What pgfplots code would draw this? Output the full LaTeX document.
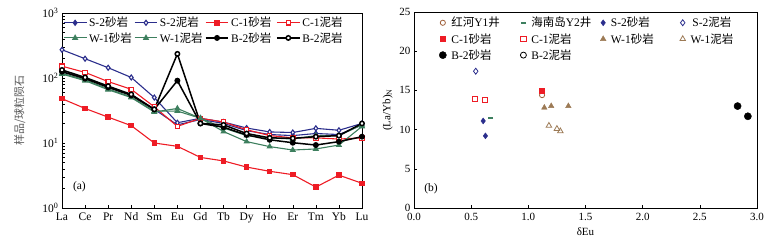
\documentclass[border=0pt]{standalone}
\usepackage{fontspec}
\setmainfont{Liberation Serif}
\newfontfamily\cjk{Noto Sans CJK SC}
\usepackage{pgfplots}
\pgfplotsset{compat=1.18}
\definecolor{cblue}{HTML}{2B2E8C}
\definecolor{cred}{HTML}{EE1C25}
\definecolor{cgreen}{HTML}{3D7F5E}
\definecolor{cbrown}{HTML}{9C7A55}
\definecolor{chong}{HTML}{A0603A}
\newcommand{\cn}[1]{{\cjk #1}}
\newcommand{\la}[1]{\makebox[43pt][l]{#1}}
\newcommand{\lb}[1]{\makebox[70pt][l]{\hspace{3pt}#1}}
\begin{document}
\begin{tikzpicture}[x=1pt,y=1pt]
\useasboundingbox (0,0) rectangle (775,-249);
\begin{axis}[
  at={(62pt,-208pt)}, anchor=south west,
  scale only axis, width=300pt, height=195pt,
  ymode=log, ymin=1, ymax=1000,
  xmin=0, xmax=13,
  xtick={0,...,13},
  xticklabels={La,Ce,Pr,Nd,Sm,Eu,Gd,Tb,Dy,Ho,Er,Tm,Yb,Lu},
  ytick={1,10,100,1000},
  yticklabels={10\textsuperscript{0},10\textsuperscript{1},10\textsuperscript{2},10\textsuperscript{3}},
  minor ytick={},
  ytick pos=left, xtick pos=bottom,
  tick style={black, thin},
  major tick length=3pt,
  tick label style={font=\fontsize{11.5}{12}\selectfont},
  xticklabel style={yshift=-1pt},
  ylabel={\cn{样品/球粒陨石}},
  ylabel style={font=\fontsize{11}{12}\selectfont, color=black!65, at={(axis description cs:-0.11,0.5)}},
  legend columns=4,
  legend style={draw=none, fill=none, at={(0.0,0.995)}, anchor=north west,
    font=\fontsize{11.5}{12}\selectfont, column sep=0pt, row sep=0pt,
    inner sep=1pt},
  legend image code/.code={\draw[mark repeat=2,mark phase=2] plot coordinates {(0cm,0cm) (0.4cm,0cm) (0.8cm,0cm)};},
  clip=false,
]
% S-2 sandstone
\addplot[cblue, line width=1.1pt, mark=diamond*, mark size=2.5pt] coordinates {
(0,125)(1,100)(2,72)(3,55)(4,33)(5,19)(6,23)(7,20)(8,15.5)(9,13.5)(10,13)(11,14)(12,13.5)(13,19)};
\addlegendentry{\la{S-2\cn{砂岩}}}
% S-2 mudstone
\addplot[cblue, line width=1.1pt, mark=diamond*, mark options={fill=white}, mark size=2.5pt] coordinates {
(0,272)(1,198)(2,144)(3,102)(4,50)(5,20.5)(6,24)(7,21)(8,17)(9,14.8)(10,14.5)(11,16.8)(12,15.7)(13,20)};
\addlegendentry{\la{S-2\cn{泥岩}}}
% C-1 sandstone
\addplot[cred, line width=1.1pt, mark=square*, mark size=2.2pt] coordinates {
(0,48)(1,34)(2,25)(3,18.5)(4,10)(5,8.9)(6,6.0)(7,5.3)(8,4.26)(9,3.67)(10,3.26)(11,2.1)(12,3.2)(13,2.4)};
\addlegendentry{\la{C-1\cn{砂岩}}}
% C-1 mudstone
\addplot[cred, line width=1.1pt, mark=square*, mark options={fill=white}, mark size=2.2pt] coordinates {
(0,152)(1,122)(2,88)(3,67)(4,36)(5,18)(6,24)(7,21)(8,16)(9,13)(10,12)(11,12)(12,11.5)(13,12)};
\addlegendentry{C-1\cn{泥岩}}
% W-1 sandstone
\addplot[cgreen, line width=1.1pt, mark=triangle*, mark size=2.6pt] coordinates {
(0,115)(1,91)(2,66)(3,50)(4,30)(5,34)(6,24)(7,15)(8,10.5)(9,8.8)(10,7.8)(11,8.1)(12,9.3)(13,18)};
\addlegendentry{\la{W-1\cn{砂岩}}}
% W-1 mudstone
\addplot[cgreen, line width=1.1pt, mark=triangle*, mark size=2.6pt] coordinates {
(0,118)(1,94)(2,68)(3,51)(4,31)(5,31)(6,24)(7,17)(8,13)(9,12)(10,11.5)(11,13)(12,13)(13,19)};
\addlegendentry{\la{W-1\cn{泥岩}}}
% B-2 sandstone
\addplot[black, line width=1.5pt, mark=*, mark size=2.2pt] coordinates {
(0,125)(1,98)(2,72)(3,54)(4,33)(5,91)(6,20)(7,17.5)(8,13.3)(9,11.2)(10,10.1)(11,9.3)(12,10.5)(13,12.5)};
\addlegendentry{\la{B-2\cn{砂岩}}}
% B-2 mudstone
\addplot[black, line width=1.5pt, mark=*, mark options={fill=white}, mark size=2.2pt] coordinates {
(0,133)(1,102)(2,75)(3,56)(4,33)(5,235)(6,20)(7,19)(8,14)(9,12)(10,11.8)(11,12.5)(12,13)(13,20)};
\addlegendentry{B-2\cn{泥岩}}
\node[anchor=west, font=\fontsize{11.5}{12}\selectfont] at (rel axis cs:0.025,0.11) {(a)};
\end{axis}

\begin{axis}[
  at={(414pt,-208pt)}, anchor=south west,
  scale only axis, width=343pt, height=196pt,
  xmin=0, xmax=3, ymin=0, ymax=25,
  xtick={0,0.5,...,3.0},
  ytick={0,5,...,25},
  xticklabel style={yshift=-2pt, /pgf/number format/.cd, fixed, fixed zerofill, precision=1},
  /pgf/number format/assume math mode=true,
  ytick pos=left, xtick pos=bottom,
  tick style={black, thin},
  major tick length=3pt,
  tick label style={font=\fontsize{11}{12}\selectfont},
  xlabel={δEu},
  ylabel={(La/Yb)\textsubscript{N}},
  label style={font=\fontsize{11}{12}\selectfont},
  legend columns=4,
  legend style={draw=none, fill=none, at={(0.07,0.99)}, anchor=north west,
    font=\fontsize{11.5}{12}\selectfont, row sep=1pt, column sep=0pt, inner sep=1pt},
  clip=false,
]
\addplot[only marks, chong, mark=o, mark size=2.6pt, thick] coordinates {(1.12,14.4)};
\addlegendentry{\lb{\cn{红河}Y1\cn{井}}}
\addplot[only marks, cgreen, mark=-, mark size=2.6pt, line width=1.6pt] coordinates {(0.67,11.5)};
\addlegendentry{\lb{\cn{海南岛}Y2\cn{井}}}
\addplot[only marks, cblue, mark=diamond*, mark size=3pt] coordinates {(0.605,11.1)(0.625,9.2)};
\addlegendentry{\lb{S-2\cn{砂岩}}}
\addplot[only marks, cblue, mark=diamond, mark size=3pt, thick] coordinates {(0.54,17.45)};
\addlegendentry{\hspace{3pt}S-2\cn{泥岩}}
\addplot[only marks, cred, mark=square*, mark size=2.6pt] coordinates {(1.12,15.0)};
\addlegendentry{\lb{C-1\cn{砂岩}}}
\addplot[only marks, cred, mark=square, mark size=2.6pt, thick] coordinates {(0.53,13.9)(0.62,13.8)};
\addlegendentry{\lb{C-1\cn{泥岩}}}
\addplot[only marks, cbrown, mark=triangle*, mark size=3.2pt] coordinates {(1.14,12.8)(1.20,13.0)(1.35,13.0)};
\addlegendentry{\lb{W-1\cn{砂岩}}}
\addplot[only marks, cbrown, mark=triangle, mark size=3.2pt, thick] coordinates {(1.18,10.5)(1.25,10.1)(1.28,9.8)};
\addlegendentry{\hspace{3pt}W-1\cn{泥岩}}
\addplot[only marks, black, mark=*, mark size=3.6pt] coordinates {(2.83,13.0)(2.92,11.7)};
\addlegendentry{\lb{B-2\cn{砂岩}}}
\addlegendimage{only marks, black, mark=o, mark size=3pt, thick}
\addlegendentry{\lb{B-2\cn{泥岩}}}
\node[anchor=west, font=\fontsize{11.5}{12}\selectfont] at (rel axis cs:0.02,0.1) {(b)};
\end{axis}
\end{tikzpicture}
\end{document}
